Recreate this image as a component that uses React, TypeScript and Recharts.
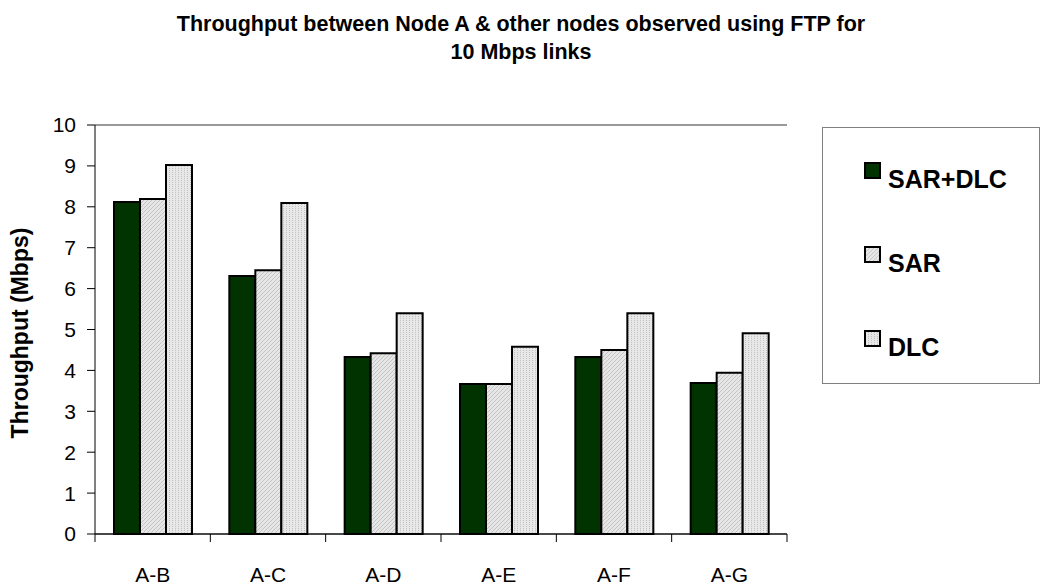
import React from "react";
import { BarChart, Bar, XAxis, YAxis, CartesianGrid, ReferenceLine } from "recharts";

const categories = ["A-B", "A-C", "A-D", "A-E", "A-F", "A-G"];
const sarDlc = [8.12, 6.31, 4.33, 3.67, 4.33, 3.69];
const sar = [8.19, 6.45, 4.42, 3.67, 4.5, 3.94];
const dlc = [9.02, 8.09, 5.4, 4.58, 5.4, 4.91];
const yTicks = [0, 1, 2, 3, 4, 5, 6, 7, 8, 9, 10];

const data = categories.map((name, i) => ({
  name,
  sarDlc: sarDlc[i],
  sar: sar[i],
  dlc: dlc[i],
}));

const W = 1042;
const H = 586;
const PLOT_LEFT = 95;
const PLOT_RIGHT = 787;
const PLOT_TOP = 125;
const PLOT_BOTTOM = 534;
const BAND = (PLOT_RIGHT - PLOT_LEFT) / categories.length;
const FONT = "Arial, 'Liberation Sans', sans-serif";

const legendItems = [
  { label: "SAR+DLC", fill: "#003300" },
  { label: "SAR", fill: "url(#sarHatch)" },
  { label: "DLC", fill: "url(#dlcDots)" },
];

// category labels centred, tick marks on the category boundaries (Excel style)
const XTick = (props: any) => {
  const { x, payload, index } = props;
  const left = x - BAND / 2;
  return (
    <g>
      <line x1={left} x2={left} y1={PLOT_BOTTOM} y2={PLOT_BOTTOM + 8} stroke="#000" />
      {index === categories.length - 1 && (
        <line x1={x + BAND / 2} x2={x + BAND / 2} y1={PLOT_BOTTOM} y2={PLOT_BOTTOM + 8} stroke="#000" />
      )}
      <text
        x={x}
        y={PLOT_BOTTOM + 42}
        textAnchor="middle"
        dominantBaseline="middle"
        fontSize={21}
        fontFamily={FONT}
        fill="#000"
      >
        {payload.value}
      </text>
    </g>
  );
};

export default function App() {
  return (
    <div style={{ position: "absolute", left: 0, top: 0, width: W, height: H, background: "#fff", fontFamily: FONT }}>
      <div
        style={{
          position: "absolute",
          left: 0,
          top: 10,
          width: W,
          textAlign: "center",
          fontWeight: "bold",
          fontSize: 21.5,
          lineHeight: "28px",
          color: "#000",
        }}
      >
        Throughput between Node A &amp; other nodes observed using FTP for
        <br />
        10 Mbps links
      </div>

      <div
        style={{
          position: "absolute",
          left: 20,
          top: 333,
          transform: "translate(-50%, -50%) rotate(-90deg)",
          whiteSpace: "nowrap",
          fontWeight: "bold",
          fontSize: 23,
          color: "#000",
        }}
      >
        Throughput (Mbps)
      </div>

      <BarChart
        width={W}
        height={H}
        data={data}
        margin={{ top: PLOT_TOP, right: W - PLOT_RIGHT, bottom: 0, left: 0 }}
        barGap={0}
        barSize={26}
      >
        <defs>
          <pattern id="sarHatch" width="4" height="4" patternUnits="userSpaceOnUse">
            <rect width="4" height="4" fill="#e6e6e6" />
            <path d="M0,4 L4,0 M-1,1 L1,-1 M3,5 L5,3" stroke="#c4c4c4" strokeWidth="1" />
          </pattern>
          <pattern id="dlcDots" width="3" height="2" patternUnits="userSpaceOnUse">
            <rect width="3" height="2" fill="#e8e8e8" />
            <rect x="1" y="0" width="1" height="1" fill="#c0c0c0" />
          </pattern>
        </defs>
        <CartesianGrid vertical={false} stroke="#222" strokeWidth={1} />
        <XAxis
          dataKey="name"
          height={H - PLOT_BOTTOM}
          axisLine={{ stroke: "#000" }}
          tickLine={false}
          tick={<XTick />}
          interval={0}
        />
        <YAxis
          yAxisId="left"
          domain={[0, 10]}
          ticks={yTicks}
          width={PLOT_LEFT}
          axisLine={{ stroke: "#000" }}
          tickLine={{ stroke: "#000" }}
          tickSize={8}
          tickMargin={11}
          tick={{ fill: "#000", fontSize: 21, fontFamily: FONT }}
          interval={0}
        />
        <YAxis
          yAxisId="right"
          orientation="right"
          domain={[0, 10]}
          width={0}
          tick={false}
          tickLine={false}
          axisLine={{ stroke: "#999", strokeWidth: 2 }}
        />
        <ReferenceLine yAxisId="left" y={10} stroke="#999" strokeWidth={2} />
        <Bar yAxisId="left" dataKey="sarDlc" fill="#003300" stroke="#000" strokeWidth={2} isAnimationActive={false} />
        <Bar yAxisId="left" dataKey="sar" fill="url(#sarHatch)" stroke="#000" strokeWidth={2} isAnimationActive={false} />
        <Bar yAxisId="left" dataKey="dlc" fill="url(#dlcDots)" stroke="#000" strokeWidth={2} isAnimationActive={false} />
      </BarChart>

      <div
        style={{
          position: "absolute",
          left: 822,
          top: 127,
          width: 218,
          height: 257,
          border: "1px solid #808080",
          boxSizing: "border-box",
        }}
      >
        {legendItems.map((item, i) => (
          <div
            key={item.label}
            style={{
              position: "absolute",
              left: 41,
              top: 32 + i * 84,
              display: "flex",
              alignItems: "flex-start",
              fontWeight: "bold",
              fontSize: 25,
              lineHeight: "30px",
              color: "#000",
            }}
          >
            <svg width={17} height={17} style={{ marginTop: 2, marginRight: 7 }}>
              <rect x={1} y={1} width={15} height={15} fill={item.fill} stroke="#000" strokeWidth={2} />
            </svg>
            <span style={{ marginTop: 4 }}>{item.label}</span>
          </div>
        ))}
      </div>
    </div>
  );
}
